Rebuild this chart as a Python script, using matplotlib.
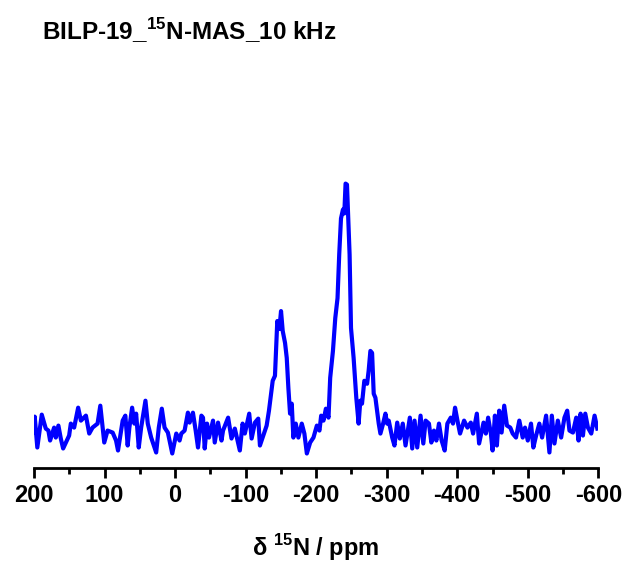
import matplotlib
matplotlib.use("Agg")
import matplotlib.pyplot as plt
from matplotlib.ticker import MultipleLocator

plt.rcParams['font.family'] = ['Liberation Sans', 'DejaVu Sans']
plt.rcParams['font.weight'] = 'bold'
plt.rcParams['axes.unicode_minus'] = False
plt.rcParams['mathtext.fontset'] = 'custom'
plt.rcParams['mathtext.rm'] = 'Liberation Sans:bold'
plt.rcParams['mathtext.bf'] = 'Liberation Sans:bold'

# 15N MAS spectrum (chemical shift in ppm, intensity in a.u.)
shift_ppm = [
    200.0, 199.0, 195.3, 189.0, 183.3, 179.6, 177.2, 171.5, 169.1, 165.4,
    162.0, 158.7, 150.2, 147.8, 143.1, 137.4, 133.5, 126.4, 121.7, 117.0,
    109.9, 106.0, 100.4, 95.7, 88.5, 83.7, 80.9, 74.3, 70.5, 67.2,
    64.8, 60.9, 57.7, 55.2, 51.5, 48.1, 42.0, 38.7, 33.9, 26.8,
    23.1, 18.8, 14.9, 10.2, 4.0, -1.7, -6.4,
    -8.8, -13.5, -18.2, -20.6, -25.3, -29.2, -32.5, -37.3, -39.6, -42.0,
    -45.3, -48.1, -53.8, -56.2, -60.9, -65.8, -68.0, -75.2, -80.0, -84.7,
    -91.8, -95.7, -98.9, -105.1, -108.5, -113.2, -117.9, -120.3,
    -129.8, -133.1, -138.4, -141.6, -144.9, -147.8, -150.2, -152.6, -155.9, -158.3,
    -160.6, -163.0, -165.4, -167.7, -171.1, -174.8, -179.6, -183.3, -186.8, -191.5,
    -196.2, -201.0, -204.7, -207.1, -210.4, -213.8, -217.5, -219.9, -223.8, -227.1,
    -230.3, -232.7, -235.2, -238.0, -239.9, -241.7, -243.7, -245.1, -247.4, -249.4,
    -253.1, -256.9, -260.2, -262.6, -265.0, -268.3, -272.2, -274.4, -276.9, -279.3,
    -281.6, -284.0, -286.4, -288.7, -291.1, -294.9, -298.2, -300.6, -302.9,
    -307.8, -311.0, -314.9, -318.6, -322.8, -326.7, -332.8, -336.2, -339.5, -343.3,
    -348.0, -351.9, -355.2, -359.9, -363.3, -367.0, -370.4, -374.1, -377.9, -382.2,
    -386.0, -390.8, -394.0, -396.9, -400.3, -404.0, -409.7, -414.5, -419.2, -422.5,
    -427.8, -431.0,
    -437.3, -440.6, -443.8, -447.7, -450.1, -453.4, -456.2, -459.5, -462.9, -466.6,
    -470.5, -475.2, -478.6, -483.3, -488.0, -492.8, -496.1, -500.0, -504.6, -507.9,
    -511.8, -516.4, -520.3, -526.0, -530.7, -534.1, -537.8, -542.6, -547.3, -552.0,
    -555.9, -559.1, -564.0, -568.7, -572.0, -574.8, -578.2, -581.5, -585.3, -590.0,
    -594.7, -598.6,
]
intensity = [
    -2, 14, -17, 16, 2, 0, -10, 3, -7, 5,
    -8, -18, -5, 7, 3, 23, 10, 15, -3, 3,
    7, 25, -12, 0, -2, -10, -20, 10, 15, -15,
    3, 23, 7, 17, -17, 3, 30, 7, -7, -22,
    3, 22, 3, -2, -23, -3, -10,
    -3, 0, 18, 8, 18, 0, -17, 15, 13, -18,
    7, -7, 10, -12, 8, -10, 0, 13, -8, 2,
    -20, 7, -3, 17, -8, 8, 12, -15,
    5, 20, 50, 55, 110, 102, 120, 100, 88, 73,
    43, 17, 27, -7, 7, -7, 7, -3, -23, -12,
    -7, 5, 0, 15, 10, 22, 13, 53, 80, 113,
    133, 177, 213, 222, 218, 248, 247, 220, 177, 103,
    73, 33, 7, 30, 27, 50, 47, 60, 80, 78,
    37, 33, 20, 7, -3, 7, 17, 7, 10,
    -7, -15, 8, -8, 7, -15, 13, -18, 10, -17,
    15, -13, 10, 7, -12, 0, -10, 7, -10, -20,
    7, 13, 7, 23, 10, -3, 10, 3, 8, -3,
    17, -13,
    8, -3, 13, -3, -20, 15, -15, 20, -2, 25,
    5, 3, -3, -7, 10, -7, 3, -10, 7, -17,
    -5, 7, -7, 15, -22, 15, -13, 10, -7, 13,
    20, 0, -2, 13, -10, 17, -5, 17, 3, -3,
    15, 2,
]

fig = plt.figure(figsize=(6.25, 5.63), dpi=100)
ax = fig.add_axes([0.0544, 0.168, 0.9029, 0.566])

ax.plot(shift_ppm, intensity, color='#0000ff', linewidth=3.0)

ax.set_xlim(200, -600)
ax.set_ylim(-38, 282)
ax.xaxis.set_major_locator(MultipleLocator(100))
ax.xaxis.set_minor_locator(MultipleLocator(50))

for side in ['top', 'right', 'left']:
    ax.spines[side].set_visible(False)
ax.spines['bottom'].set_linewidth(2)
ax.set_yticks([])
ax.tick_params(axis='x', which='major', length=7, width=2, direction='out',
               labelsize=17, pad=4)
ax.tick_params(axis='x', which='minor', length=4, width=2, direction='out')
for lbl in ax.get_xticklabels():
    lbl.set_fontweight('bold')

ax.set_xlabel(r'δ $^{\mathbf{15}}$N / ppm', fontsize=17, fontweight='bold',
              labelpad=18)

fig.text(42 / 625, 1 - 31 / 563, r'BILP-19_$^{\mathbf{15}}$N-MAS_10 kHz',
         fontsize=17.5, fontweight='bold', ha='left', va='center')

fig.savefig('out.png', dpi=100)
